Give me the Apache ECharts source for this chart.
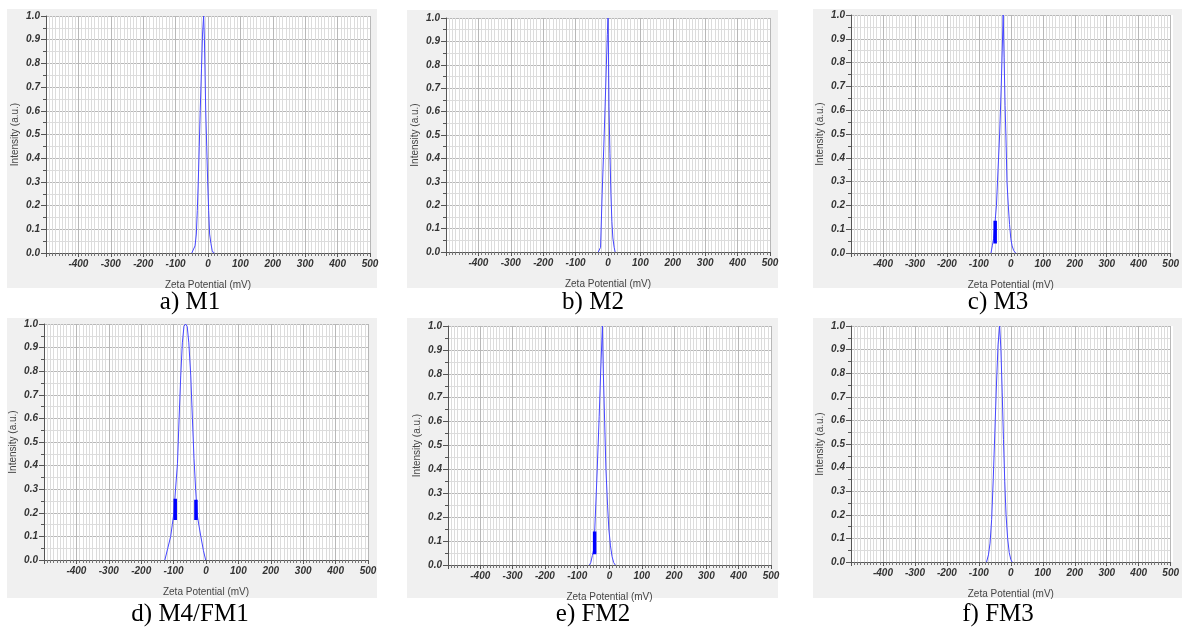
<!DOCTYPE html>
<html>
<head>
<meta charset="utf-8">
<script src="https://cdn.jsdelivr.net/npm/echarts@6/dist/echarts.min.js"></script>
<style>
html,body{margin:0;padding:0;background:#fff;}
#chart{width:1182px;height:633px;}
</style>
</head>
<body>
<div id="chart"></div>
<script>
// ---- data ----
const panelLabels = ['a) M1', 'b) M2', 'c) M3', 'd) M4/FM1', 'e) FM2', 'f) FM3'];
const xTicksMin = -500, xTicksMax = 500, xTickStep = 100;
const yTicksMin = 0, yTicksMax = 1, yTickStep = 0.1;

const M1 = [[-50,0],[-45,0.005],[-40,0.03],[-36,0.08],[-33,0.18],[-30,0.3],[-27,0.45],[-24,0.6],[-20,0.78],[-17,0.92],[-13.5,1.0],[-11,0.9],[-9,0.75],[-7,0.6],[-4,0.45],[-1,0.3],[2,0.18],[5,0.08],[9,0.04],[13,0.01],[17,0],[20,0]];
const M2 = [[-30,0],[-26,0.005],[-23,0.02],[-18,0.25],[-13,0.45],[-9,0.62],[-5,0.8],[-2,0.93],[0,1.0],[1.5,0.85],[3,0.62],[6,0.42],[9,0.25],[12,0.13],[15,0.06],[19,0.02],[22,0]];
const M3 = [[-62,0],[-58,0.03],[-54,0.06],[-50,0.12],[-45,0.2],[-40,0.35],[-35,0.5],[-30,0.7],[-27,0.85],[-24,1.0],[-21,0.82],[-18,0.62],[-15.5,0.5],[-12,0.3],[-8,0.2],[-4,0.12],[0,0.06],[4,0.03],[9,0.01],[15,0]];
const M4 = [[-127,0],[-118,0.05],[-109,0.1],[-104,0.15],[-99,0.2],[-94,0.3],[-88,0.41],[-83,0.6],[-78,0.78],[-73,0.92],[-68,0.99],[-63,1.0],[-58,0.99],[-53,0.92],[-47,0.78],[-42,0.6],[-37,0.43],[-32,0.3],[-27,0.19],[-21,0.14],[-16,0.1],[-8,0.04],[-1,0]];
const FM2 = [[-62,0],[-58,0.01],[-53,0.04],[-48,0.07],[-44,0.2],[-38,0.4],[-32,0.62],[-27,0.82],[-22,1.0],[-19,0.8],[-15,0.6],[-11,0.4],[-6,0.25],[-2,0.15],[3,0.08],[8,0.035],[13,0.01],[18,0]];
const FM3 = [[-76,0],[-70,0.03],[-65,0.08],[-60,0.18],[-55,0.35],[-50,0.55],[-45,0.75],[-40,0.92],[-35,1.0],[-31,0.9],[-27,0.72],[-23,0.52],[-19,0.34],[-15,0.2],[-10,0.1],[-5,0.04],[0,0.01],[4,0]];
const curves = [M1, M2, M3, M4, FM2, FM3];

// thick marker segments: [x, yLow, yHigh]
const barsM3 = [[-49, 0.04, 0.135]];
const barsM4 = [[-95, 0.17, 0.26], [-31, 0.17, 0.255]];
const barsFM2 = [[-46, 0.045, 0.14]];
const bars = [[], [], barsM3, barsM4, barsFM2, []];

// ---- layout (px) ----
const grids = [
  {left: 46, top: 16, width: 324, height: 237},
  {left: 446, top: 18, width: 324, height: 234},
  {left: 851, top: 15, width: 322, height: 238},
  {left: 44, top: 324, width: 324, height: 236},
  {left: 448, top: 326, width: 323, height: 239},
  {left: 851, top: 326, width: 322, height: 236}
];
const bgs = [
  {x: 7, y: 9, w: 370, h: 279},
  {x: 407, y: 10, w: 371, h: 278},
  {x: 813, y: 9, w: 369, h: 279},
  {x: 7, y: 318, w: 370, h: 280},
  {x: 407, y: 318, w: 371, h: 280},
  {x: 813, y: 318, w: 369, h: 280}
];
const captionPos = [[190, 302], [593, 302], [998, 302], [190, 614], [593, 614], [998, 614]];

const labelFont = {fontFamily: 'Liberation Sans', fontSize: 10, fontWeight: 'bold', fontStyle: 'italic', color: '#333'};
const nameFont = {fontFamily: 'Liberation Sans', fontSize: 10, color: '#444'};

const option = {
  animation: false,
  backgroundColor: '#fff',
  grid: grids.map(g => Object.assign({show: false}, g)),
  xAxis: grids.map((g, i) => ({
    gridIndex: i, type: 'value', min: xTicksMin, max: xTicksMax, interval: xTickStep,
    name: 'Zeta Potential (mV)', nameLocation: 'middle', nameGap: 27, nameTextStyle: nameFont,
    axisLine: {show: true, onZero: false, lineStyle: {color: '#555', width: 1}},
    axisTick: {show: true, length: 4, lineStyle: {color: '#555'}},
    minorTick: {show: true, splitNumber: 10, length: 3, lineStyle: {color: '#777'}},
    axisLabel: Object.assign({margin: 6, showMinLabel: false, showMaxLabel: true}, labelFont),
    splitLine: {show: true, lineStyle: {color: '#b8b8b8', width: 1}},
    minorSplitLine: {show: true, lineStyle: {color: '#dcdcdc', width: 1}}
  })),
  yAxis: grids.map((g, i) => ({
    gridIndex: i, type: 'value', min: yTicksMin, max: yTicksMax, interval: yTickStep,
    name: 'Intensity (a.u.)', nameLocation: 'middle', nameGap: 26, nameTextStyle: nameFont,
    axisLine: {show: true, onZero: false, lineStyle: {color: '#555', width: 1}},
    axisTick: {show: true, length: 5, lineStyle: {color: '#555'}},
    minorTick: {show: true, splitNumber: 2, length: 3, lineStyle: {color: '#555'}},
    axisLabel: Object.assign({margin: 6, formatter: v => v.toFixed(1)}, labelFont),
    splitLine: {show: true, lineStyle: {color: '#b8b8b8', width: 1}},
    minorSplitLine: {show: true, lineStyle: {color: '#dcdcdc', width: 1}}
  })),
  series: [],
  graphic: []
};

curves.forEach((c, i) => {
  option.series.push({
    type: 'line', xAxisIndex: i, yAxisIndex: i, data: c, symbol: 'none', z: 3,
    lineStyle: {color: '#4646ff', width: 1}
  });
  bars[i].forEach(b => {
    option.series.push({
      type: 'line', xAxisIndex: i, yAxisIndex: i, data: [[b[0], b[1]], [b[0], b[2]]], symbol: 'none', z: 4,
      lineStyle: {color: '#0000ff', width: 3.5, cap: 'butt'}
    });
  });
});

bgs.forEach(b => {
  option.graphic.push({type: 'rect', z: -10, silent: true, shape: {x: b.x, y: b.y, width: b.w, height: b.h}, style: {fill: '#f0f0f0'}});
});
grids.forEach(g => {
  option.graphic.push({type: 'rect', z: -5, silent: true, shape: {x: g.left, y: g.top, width: g.width, height: g.height}, style: {fill: '#ffffff'}});
});
panelLabels.forEach((t, i) => {
  option.graphic.push({type: 'text', z: 10, x: captionPos[i][0], y: captionPos[i][1],
    style: {text: t, fill: '#000', font: '25px "Liberation Serif"', textAlign: 'center', textVerticalAlign: 'middle'}});
});

const chart = echarts.init(document.getElementById('chart'));
chart.setOption(option);
</script>
</body>
</html>
